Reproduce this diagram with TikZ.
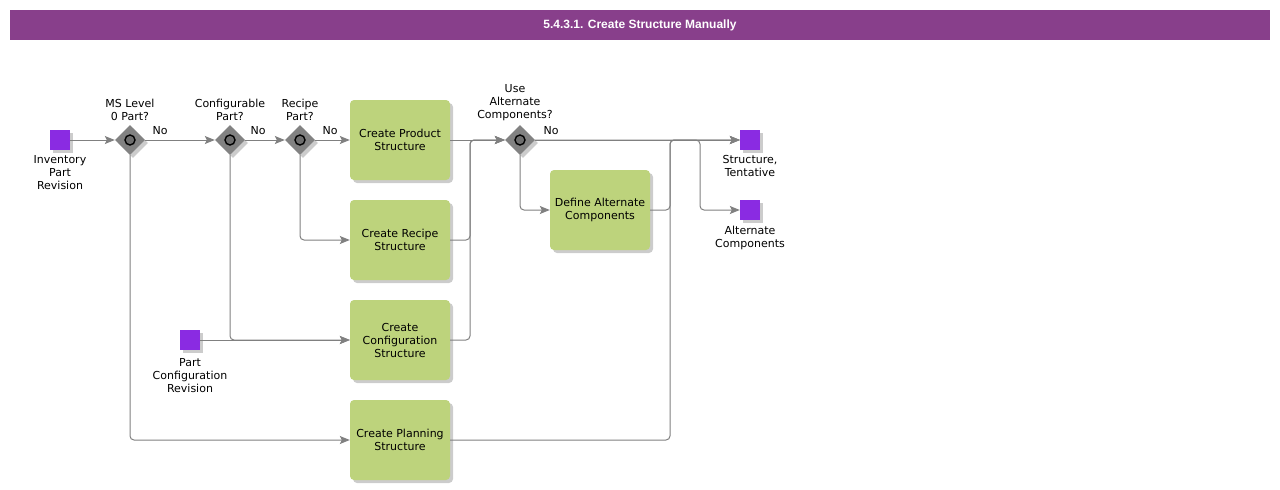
\documentclass[tikz,border=0pt]{standalone}
\usepackage{fontspec}
\setmainfont{DejaVu Sans}
\newfontfamily\titlefont{Liberation Sans}
\usetikzlibrary{shapes.geometric,arrows.meta}
\definecolor{titlebg}{HTML}{883F8B}
\definecolor{taskgreen}{HTML}{BDD37C}
\definecolor{evpurple}{HTML}{8A2BE2}
\definecolor{linegray}{HTML}{808080}
\definecolor{gwgray}{HTML}{828282}
\definecolor{gwinner}{HTML}{6E6E6E}
\definecolor{shadowgray}{HTML}{CCCCCC}
\begin{document}
\begin{tikzpicture}[x=1pt,y=-1pt,
  font=\fontsize{11}{13}\selectfont,
  shadowed/.style={preaction={fill=shadowgray, transform canvas={xshift=3pt,yshift=-3pt}}},
  task/.style={shadowed, fill=taskgreen, rounded corners=4pt, minimum width=100pt,
    minimum height=80pt, align=center, inner sep=0pt},
  event/.style={shadowed, fill=evpurple, minimum width=20pt, minimum height=20pt, inner sep=0pt},
  gateway/.style={shadowed, diamond, fill=gwgray, minimum width=30pt, minimum height=30pt, inner sep=0pt},
  gwmark/.style={circle, draw=black, line width=1.4pt, fill=gwinner, minimum size=10pt, inner sep=0pt},
  lbl/.style={align=center, inner sep=0pt},
  flow/.style={draw=linegray, line width=1pt, rounded corners=4pt,
    -{Stealth[length=10pt,width=8pt,inset=2pt,fill=linegray]}}
]
\useasboundingbox (0,0) rectangle (1280,490);
% title bar
\node[fill=titlebg, minimum width=1260pt, minimum height=30pt, inner sep=0pt,
  text=white, font=\titlefont\bfseries\fontsize{12}{13}\selectfont] (title) at (640,25)
  {5.4.3.1. Create Structure Manually};

% events
\node[event] (inv) at (60,140) {};
\node[lbl, anchor=north] (invl) at (60,155) {Inventory\\Part\\Revision};
\node[event] (pcr) at (190,340) {};
\node[lbl, anchor=north] (pcrl) at (190,358) {Part\\Configuration\\Revision};
\node[event] (st) at (750,140) {};
\node[lbl, anchor=north] (stl) at (750,155) {Structure,\\Tentative};
\node[event] (alt) at (750,210) {};
\node[lbl, anchor=north] (altl) at (750,226) {Alternate\\Components};

% gateways
\node[gateway] (g1) at (130,140) {};
\node[gwmark] (g1m) at (g1) {};
\node[lbl, anchor=south, text depth=0pt] (g1l) at (130,121) {MS Level\\0 Part?};
\node[gateway] (g2) at (230,140) {};
\node[gwmark] (g2m) at (g2) {};
\node[lbl, anchor=south, text depth=0pt] (g2l) at (230,121) {Configurable\\Part?};
\node[gateway] (g3) at (300,140) {};
\node[gwmark] (g3m) at (g3) {};
\node[lbl, anchor=south, text depth=0pt] (g3l) at (300,121) {Recipe\\Part?};
\node[gateway] (g4) at (520,140) {};
\node[gwmark] (g4m) at (g4) {};
\node[lbl, anchor=south, text depth=0pt] (g4l) at (515,119) {Use\\Alternate\\Components?};

% tasks
\node[task] (prod) at (400,140) {Create Product\\Structure};
\node[task] (recipe) at (400,240) {Create Recipe\\Structure};
\node[task] (config) at (400,340) {Create\\Configuration\\Structure};
\node[task] (plan) at (400,440) {Create Planning\\Structure};
\node[task] (define) at (600,210) {Define Alternate\\Components};

% junctions
\coordinate (j1) at (470,140);
\coordinate (j2) at (670,140);
\coordinate (j3) at (700,140);

% flows
\draw[flow] (inv.east) -- (g1.west);
\draw[flow] (g1.east) -- (g2.west);
\draw[flow] (g2.east) -- (g3.west);
\draw[flow] (g3.east) -- (prod.west);
\draw[flow] (g1.south) |- (plan.west);
\draw[flow] (g2.south) |- (config.west);
\draw[flow] (pcr.east) -- (config.west);
\draw[flow] (g3.south) |- (recipe.west);
\draw[flow] (prod.east) -- (g4.west);
\draw[flow] (recipe.east) -| (j1) -- (g4.west);
\draw[flow] (config.east) -| (j1) -- (g4.west);
\draw[flow] (g4.east) -- (st.west);
\draw[flow] (g4.south) |- (define.west);
\draw[flow] (define.east) -| (j2) -- (st.west);
\draw[flow] (plan.east) -| (j2) -- (st.west);
\draw[flow] (g4.east) -- (j3) |- (alt.west);

% No labels
\node[lbl] (no1) at (160,131) {No};
\node[lbl] (no2) at (258,131) {No};
\node[lbl] (no3) at (330,131) {No};
\node[lbl] (no4) at (551,131) {No};
\end{tikzpicture}
\end{document}
